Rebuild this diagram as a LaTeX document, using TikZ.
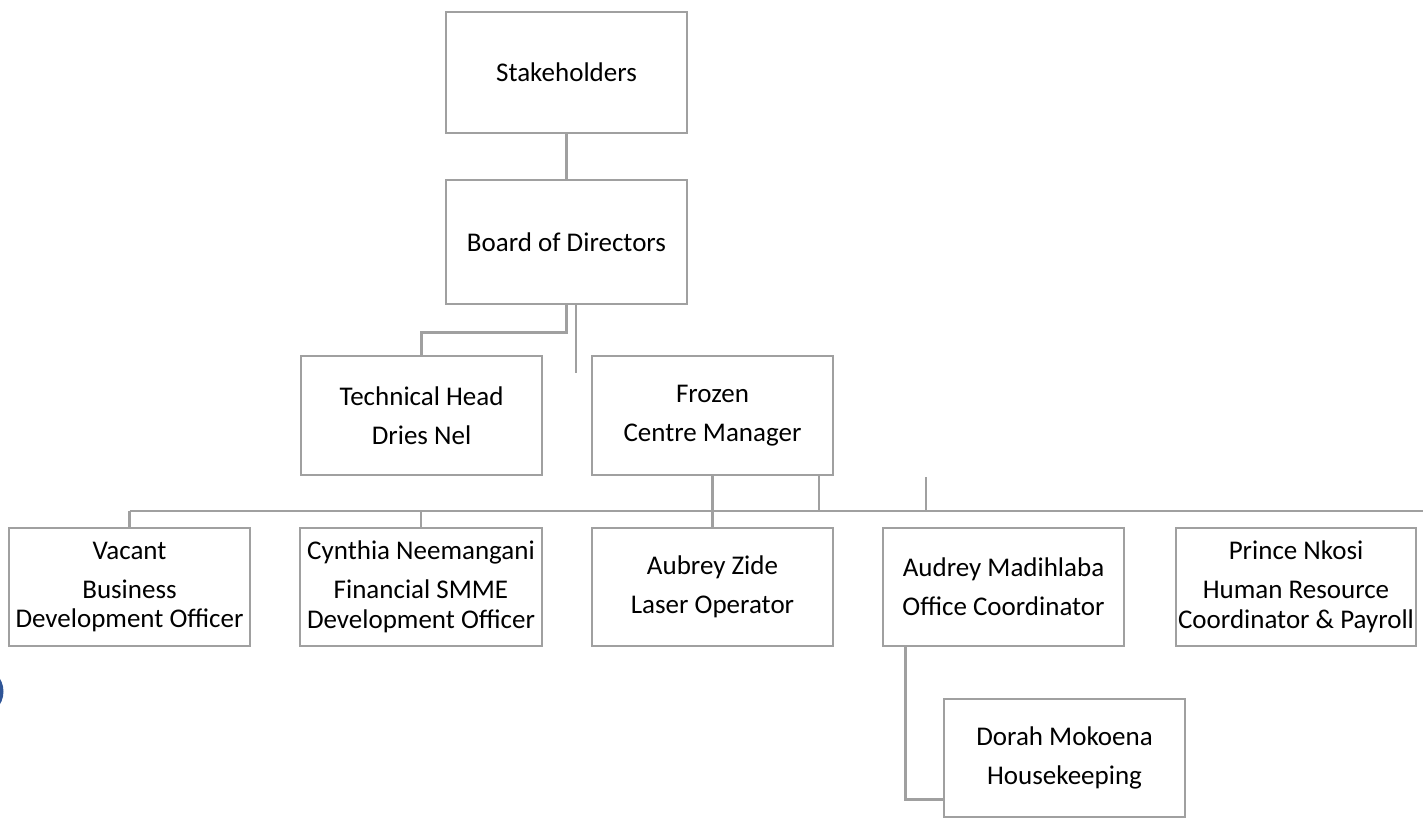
\documentclass[tikz,border=0pt]{standalone}
\usepackage{fontspec}
\setmainfont{Carlito}
\usetikzlibrary{calc}
\definecolor{linegray}{RGB}{160,160,160}
\definecolor{dotblue}{RGB}{47,85,151}
\begin{document}
\begin{tikzpicture}[x=1pt,y=-1pt,
  orgbox/.style={draw=linegray, line width=2.6pt, fill=white, inner sep=0pt,
    align=center, font=\fontsize{27}{29.5}\selectfont, text=black},
  conn/.style={draw=linegray, line width=2.6pt}]
\useasboundingbox (0,0) rectangle (1423,822);
\begin{scope}
  \clip (0,0) rectangle (1423,822);
  \fill[dotblue] (-21.5,691.5) circle (25);
\end{scope}
% nodes
\node[orgbox, minimum width=241pt, minimum height=121pt] (stake) at (566.5,72.5) {Stakeholders};
\node[orgbox, minimum width=241pt, minimum height=124pt] (board) at (566.5,242) {Board of Directors};
\node[orgbox, minimum width=241pt, minimum height=119pt] (tech) at (421.5,415.5) {Technical Head\\[9.5pt]Dries Nel};
\node[orgbox, minimum width=241pt, minimum height=119pt] (frozen) at (712.5,415.5) {Frozen\\[9.5pt]Centre Manager};
\node[orgbox, minimum width=241pt, minimum height=118pt] (vacant) at (129.5,587) {Vacant\\[9.5pt]Business\\Development Officer};
\node[orgbox, minimum width=242pt, minimum height=118pt] (cynthia) at (421,587) {Cynthia Neemangani\\[9.5pt]Financial SMME\\Development Officer};
\node[orgbox, minimum width=241pt, minimum height=118pt] (aubrey) at (712.5,587) {Aubrey Zide\\[9.5pt]Laser Operator};
\node[orgbox, minimum width=241pt, minimum height=118pt] (audrey) at (1003.5,587) {Audrey Madihlaba\\[9.5pt]Office Coordinator};
\node[orgbox, minimum width=240pt, minimum height=118pt] (prince) at (1296,587) {Prince Nkosi\\[9.5pt]Human Resource\\Coordinator \& Payroll};
\node[orgbox, minimum width=241pt, minimum height=118pt] (dorah) at (1064.5,758) {Dorah Mokoena\\[9.5pt]Housekeeping};
% coordinates
\coordinate (busL) at (129.5,511);
\coordinate (busR) at (1423,511);
\coordinate (stub1) at (576,373);
\coordinate (stub2) at (926,477);
% connectors
\draw[conn] (stake.south) -- (board.north);
\draw[conn] (board.south) -- ++(0,27) -| (tech.north);
\draw[conn] (stub1 |- board.south) -- (stub1);
\draw[conn] (frozen.south) -- (aubrey.north);
\draw[conn] ($(frozen.south)+(106.5,0)$) -- ++(0,35);
\draw[conn] (stub2) -- (stub2 |- busL);
\draw[conn] (busL) -- (busR);
\draw[conn] (busL) -- (vacant.north);
\draw[conn] (cynthia.north |- busL) -- (cynthia.north);
\draw[conn] ($(audrey.north east)+(-12,0)$ |- busL) -- ($(audrey.north east)+(-12,0)$);
\draw[conn] ($(audrey.south west)+(24,0)$) |- ($(dorah.south west)+(0,-19)$);
\end{tikzpicture}
\end{document}
